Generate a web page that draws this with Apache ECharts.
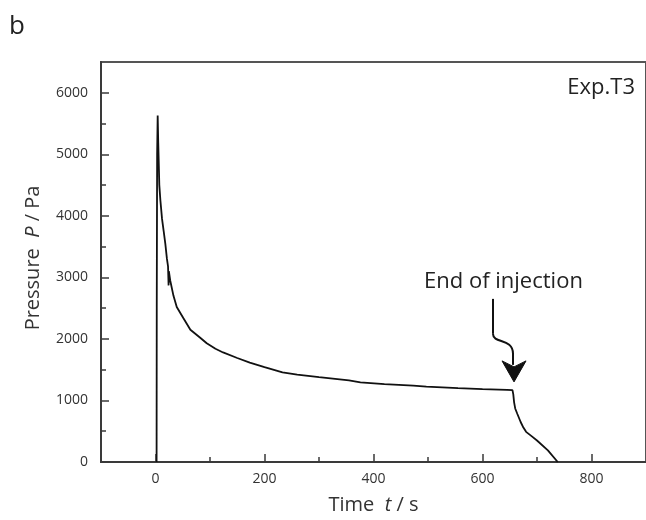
<!DOCTYPE html>
<html><head><meta charset="utf-8">
<script src="https://cdn.jsdelivr.net/npm/echarts@6/dist/echarts.min.js"></script>
<style>html,body{margin:0;padding:0;background:#fff}#c{width:646px;height:520px}</style>
</head><body><div id="c"></div>
<script>
// Time (s)
const timeS = [2, 2.3, 3, 4, 5, 7, 9, 12, 15, 18, 21, 23, 24, 24.5, 27, 33, 39, 51, 64, 82, 94, 110, 124, 150, 173, 200, 233, 260, 300, 355, 376, 420, 473, 497, 555, 600, 645, 655, 656.5, 658, 660, 664, 670, 675, 680, 690, 700, 720, 738];
// Pressure (Pa)
const pressurePa = [0, 2500, 5000, 5630, 5200, 4500, 4250, 3950, 3750, 3550, 3300, 3180, 2870, 3100, 2950, 2700, 2520, 2340, 2150, 2020, 1930, 1840, 1780, 1690, 1615, 1540, 1455, 1420, 1380, 1328, 1295, 1265, 1240, 1226, 1200, 1185, 1172, 1168, 1100, 970, 870, 780, 650, 560, 490, 420, 350, 190, 0];
const xMajorTicks = [0, 200, 400, 600, 800];
const xMinorTicks = [100, 300, 500, 700];
const yMajorTicks = [0, 1000, 2000, 3000, 4000, 5000, 6000];
const yMinorTicks = [500, 1500, 2500, 3500, 4500, 5500];
const endOfInjection = [656, 1172];

const FONT = '"Open Sans", "Noto Sans", sans-serif';
const AX = '#3a3a3a';
const TXT = '#333';
const chart = echarts.init(document.getElementById('c'), null, {renderer: 'canvas'});

const pts = timeS.map((t, i) => [t, pressurePa[i]]);
const plain = v => String(v);

const option = {
  animation: false,
  backgroundColor: '#fff',
  grid: {left: 101, right: -4, top: 62, bottom: 58, show: true, borderColor: '#555', borderWidth: 2, backgroundColor: 'transparent'},
  xAxis: [{
    type: 'value', min: -100, max: 900, position: 'bottom',
    axisLine: {show: true, onZero: false, lineStyle: {color: AX, width: 2}},
    axisTick: {show: true, inside: true, length: 8, customValues: xMajorTicks, lineStyle: {color: AX, width: 1.5}},
    axisLabel: {customValues: xMajorTicks, formatter: plain, color: TXT, fontSize: 14, fontFamily: FONT, margin: 10},
    splitLine: {show: false},
    name: '{a|Time  }{i|t}{a| / s}', nameLocation: 'middle', nameGap: 33,
    nameTextStyle: {rich: {a: {fontSize: 20, fontFamily: FONT, color: TXT}, i: {fontSize: 20, fontFamily: FONT, color: TXT, fontStyle: 'italic'}}}
  }, {
    type: 'value', min: -100, max: 900, position: 'bottom', gridIndex: 0,
    axisLine: {show: false, onZero: false},
    axisTick: {show: true, inside: true, length: 5, customValues: xMinorTicks, lineStyle: {color: AX, width: 1.5}},
    axisLabel: {show: false}, splitLine: {show: false}
  }],
  yAxis: [{
    type: 'value', min: 0, max: 6500, position: 'left',
    axisLine: {show: true, onZero: false, lineStyle: {color: AX, width: 2}},
    axisTick: {show: true, inside: true, length: 8, customValues: yMajorTicks, lineStyle: {color: AX, width: 1.5}},
    axisLabel: {customValues: yMajorTicks, formatter: plain, color: TXT, fontSize: 14, fontFamily: FONT, margin: 13},
    splitLine: {show: false},
    name: '{a|Pressure  }{i|P}{a| / Pa}', nameLocation: 'middle', nameGap: 58, nameRotate: 90,
    nameTextStyle: {padding: [0, 0, 0, 8], rich: {a: {fontSize: 20, fontFamily: FONT, color: TXT}, i: {fontSize: 20, fontFamily: FONT, color: TXT, fontStyle: 'italic'}}}
  }, {
    type: 'value', min: 0, max: 6500, position: 'left', gridIndex: 0,
    axisLine: {show: false, onZero: false},
    axisTick: {show: true, inside: true, length: 5, customValues: yMinorTicks, lineStyle: {color: AX, width: 1.5}},
    axisLabel: {show: false}, splitLine: {show: false}
  }],
  series: [{
    type: 'line', data: pts, xAxisIndex: 0, yAxisIndex: 0,
    showSymbol: false, symbol: 'none', smooth: false,
    lineStyle: {color: '#111', width: 1.8}
  }]
};
chart.setOption(option);

const tip = chart.convertToPixel({xAxisIndex: 0, yAxisIndex: 0}, endOfInjection);
const tx = tip[0] + 1, ty = tip[1] - 8;
chart.setOption({
  graphic: [
    {type: 'text', x: 9, y: 27, style: {text: 'b', fontSize: 26, fontFamily: FONT, fill: '#222', align: 'left', verticalAlign: 'middle'}},
    {type: 'text', x: 635, y: 88, style: {text: 'Exp.T3', fontSize: 22, fontFamily: FONT, fill: '#222', align: 'right', verticalAlign: 'middle'}},
    {type: 'text', x: tx - 90, y: ty - 100, style: {text: 'End of injection', fontSize: 22, fontFamily: FONT, fill: '#222', align: 'left', verticalAlign: 'middle'}},
    {type: 'polyline', x: tx, y: ty, shape: {points: [[-21, -83], [-21, -48]]}, style: {stroke: '#111', lineWidth: 2, fill: null}},
    {type: 'bezierCurve', x: tx, y: ty, shape: {x1: -21, y1: -48, cpx1: -21, cpy1: -38, cpx2: -1, cpy2: -44, x2: -1, y2: -28}, style: {stroke: '#111', lineWidth: 2, fill: null}},
    {type: 'polyline', x: tx, y: ty, shape: {points: [[-1, -28], [-1, -17]]}, style: {stroke: '#111', lineWidth: 2, fill: null}},
    {type: 'polygon', x: tx, y: ty, shape: {points: [[-12, -21], [0, -15], [12, -21], [0, 0]]}, style: {fill: '#111', stroke: '#111', lineWidth: 1}}
  ]
});
</script>
</body></html>
